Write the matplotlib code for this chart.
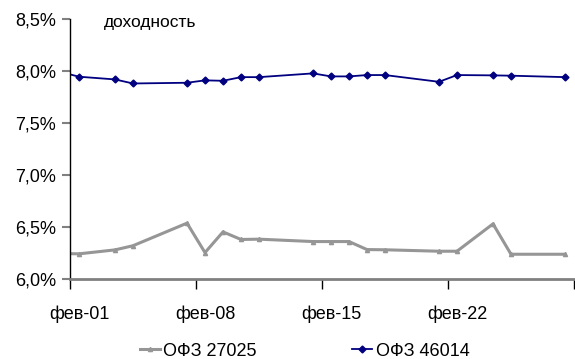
import numpy as np
import pandas as pd
import matplotlib
matplotlib.use('Agg')
import matplotlib.pyplot as plt

# доходность ОФЗ, февраль 2011
dates = ['2011-01-31', '2011-02-01', '2011-02-03', '2011-02-04', '2011-02-07',
         '2011-02-08', '2011-02-09', '2011-02-10', '2011-02-11', '2011-02-14',
         '2011-02-15', '2011-02-16', '2011-02-17', '2011-02-18', '2011-02-21',
         '2011-02-22', '2011-02-24', '2011-02-25', '2011-02-28']

ofz_27025 = [6.245, 6.242, 6.28, 6.32, 6.537, 6.254, 6.453, 6.38, 6.383, 6.36,
             6.36, 6.36, 6.283, 6.281, 6.267, 6.267, 6.53, 6.238, 6.238]
ofz_46014 = [7.99, 7.945, 7.919, 7.88, 7.887, 7.91, 7.906, 7.941, 7.941, 7.977,
             7.948, 7.948, 7.961, 7.961, 7.896, 7.961, 7.958, 7.955, 7.941]

tick_labels = ['фев-01', 'фев-08', 'фев-15', 'фев-22']

plt.rcParams['font.family'] = ['Liberation Sans', 'DejaVu Sans']

start = pd.Timestamp('2011-02-01')
# точки стоят в середине дня (как на оси дат в Excel)
x = np.array([(pd.Timestamp(d) - start).days for d in dates]) + 0.5

fig = plt.figure(figsize=(5.75, 3.59), dpi=100)
ax = fig.add_axes([70 / 575, 1 - 279 / 359, 504 / 575, 260 / 359])

ax.plot(x, ofz_27025, color='#969696', linewidth=2.2, marker='^', markersize=3,
        label='ОФЗ 27025')
ax.plot(x, ofz_46014, color='#000080', linewidth=1.3, marker='D', markersize=3.5,
        label='ОФЗ 46014')

ax.set_xlim(0, 28)
ax.set_ylim(6.0, 8.5)

ax.set_xticks([0, 7, 14, 21, 28])
ax.set_xticklabels([])
ax.set_xticks([0.5, 7.5, 14.5, 21.5], minor=True)
ax.set_xticklabels(tick_labels, minor=True)
ax.tick_params(axis='x', which='major', direction='out', length=7, width=1, color='black')
ax.tick_params(axis='x', which='minor', length=0, pad=19, labelsize=13)

yt = [6.0, 6.5, 7.0, 7.5, 8.0, 8.5]
ax.set_yticks(yt)
ax.set_yticklabels([f'{v:.1f}%'.replace('.', ',') for v in yt])
ax.tick_params(axis='y', direction='out', length=6, width=1.5, color='#808080',
               labelsize=13, pad=4)

for s in ['top', 'right']:
    ax.spines[s].set_visible(False)
ax.spines['left'].set_color('black')
ax.spines['left'].set_linewidth(1)
ax.spines['bottom'].set_color('#808080')
ax.spines['bottom'].set_linewidth(2)

ax.text(0.067, 0.985, 'доходность', transform=ax.transAxes, fontsize=12.5,
        ha='left', va='center')

fig.legend(loc='center', bbox_to_anchor=(0.53, 0.022), ncol=2, frameon=False,
           fontsize=13, handlelength=1.1, handletextpad=0.2, columnspacing=5.3)

fig.savefig('out.png', dpi=100)
